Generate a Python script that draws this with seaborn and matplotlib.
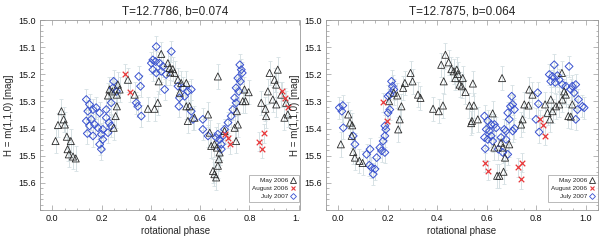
import numpy as np
import matplotlib
matplotlib.use("Agg")
import matplotlib.pyplot as plt
from matplotlib.lines import Line2D
from matplotlib.patches import Rectangle
from matplotlib.ticker import MultipleLocator
import seaborn as sns

# ---- left panel: T=12.7786, b=0.074 ----
may_l_phase = [0.037, 0.046, 0.051, 0.023, 0.059, 0.013, 0.075, 0.062, 0.067, 0.084, 0.095,
               0.266, 0.232, 0.243, 0.226, 0.273, 0.262, 0.262, 0.257, 0.249, 0.307, 0.334,
               0.388, 0.415, 0.428,
               0.442, 0.469, 0.476, 0.489, 0.479, 0.496, 0.432, 0.510, 0.523, 0.517, 0.544,
               0.557, 0.577, 0.550, 0.544,
               0.672, 0.632, 0.639, 0.645, 0.658, 0.668, 0.679, 0.676, 0.672, 0.652, 0.658,
               0.665, 0.699, 0.746, 0.740, 0.753, 0.749, 0.780, 0.797, 0.773, 0.784, 0.848,
               0.865, 0.868, 0.882, 0.915, 0.902, 0.909, 0.875, 0.895, 0.909, 0.929, 0.949,
               0.956, 0.942]
may_l_mag = [15.336, 15.366, 15.385, 15.387, 15.430, 15.446, 15.446, 15.476, 15.495, 15.503, 15.510,
             15.238, 15.256, 15.263, 15.278, 15.256, 15.275, 15.318, 15.354, 15.397, 15.220, 15.275,
             15.327, 15.327, 15.305,
             15.125, 15.159, 15.177, 15.181, 15.193, 15.195, 15.226, 15.220, 15.232, 15.268, 15.318,
             15.318, 15.360, 15.372, 15.232,
             15.208, 15.348, 15.415, 15.464, 15.458, 15.470, 15.488, 15.513, 15.537, 15.556, 15.568,
             15.580, 15.409, 15.446, 15.397, 15.385, 15.336, 15.256, 15.266, 15.299, 15.299, 15.305,
             15.327, 15.354, 15.195, 15.183, 15.220, 15.238, 15.263, 15.293, 15.311, 15.275, 15.305,
             15.348, 15.360]

aug_l_phase = [0.297, 0.314, 0.700, 0.715, 0.720, 0.933, 0.946, 0.956, 0.838, 0.861, 0.850]
aug_l_mag = [15.198, 15.266, 15.420, 15.435, 15.458, 15.263, 15.287, 15.320, 15.449, 15.418, 15.474]

jul_l_phase = [0.138, 0.151, 0.165, 0.144, 0.178, 0.192, 0.138, 0.158, 0.172, 0.151, 0.185,
               0.205, 0.199, 0.205, 0.192, 0.199, 0.142, 0.165, 0.219, 0.230, 0.239, 0.219,
               0.239, 0.226, 0.260, 0.246, 0.249,
               0.351, 0.358, 0.341, 0.347, 0.361,
               0.408, 0.422, 0.402, 0.419, 0.435, 0.449, 0.442, 0.483, 0.462, 0.422, 0.408,
               0.456, 0.510, 0.530, 0.550, 0.564, 0.537, 0.516, 0.514, 0.564, 0.571, 0.611,
               0.632,
               0.761, 0.767, 0.771, 0.753, 0.763, 0.746, 0.757, 0.740, 0.746, 0.733, 0.726,
               0.713, 0.699, 0.692, 0.679, 0.686, 0.672, 0.665, 0.611, 0.686]
jul_l_mag = [15.293, 15.311, 15.330, 15.336, 15.323, 15.342, 15.372, 15.366, 15.385, 15.390, 15.397,
             15.403, 15.421, 15.440, 15.458, 15.476, 15.418, 15.427, 15.360, 15.378, 15.390, 15.330,
             15.305, 15.415, 15.263, 15.250, 15.226,
             15.208, 15.244, 15.305, 15.318, 15.354,
             15.147, 15.098, 15.159, 15.153, 15.159, 15.171, 15.189, 15.116, 15.201, 15.195, 15.183,
             15.256, 15.244, 15.250, 15.263, 15.256, 15.281, 15.287, 15.318, 15.336, 15.366, 15.403,
             15.427,
             15.165, 15.183, 15.195, 15.214, 15.226, 15.250, 15.263, 15.287, 15.305, 15.330, 15.354,
             15.378, 15.403, 15.427, 15.440, 15.458, 15.421, 15.433, 15.366, 15.476]

# ---- right panel: T=12.7875, b=0.064 ----
may_r_phase = [0.010, 0.040, 0.047, 0.056, 0.054, 0.060, 0.067, 0.085, 0.098, 0.205, 0.224,
               0.238, 0.255, 0.248, 0.242, 0.262, 0.269, 0.292, 0.300, 0.322, 0.332,
               0.433, 0.416, 0.446, 0.457, 0.467, 0.479, 0.483, 0.473, 0.503, 0.426, 0.490,
               0.499, 0.514, 0.544, 0.383, 0.406, 0.423, 0.530, 0.548, 0.540, 0.564, 0.662,
               0.624, 0.631, 0.658, 0.665, 0.674, 0.642, 0.651, 0.668, 0.691, 0.739,
               0.904, 0.772, 0.785, 0.752, 0.769, 0.836, 0.846, 0.866, 0.880, 0.893, 0.906,
               0.920, 0.913, 0.930, 0.940, 0.855, 0.745, 0.859, 0.946, 0.537]
may_r_mag = [15.458, 15.348, 15.378, 15.388, 15.427, 15.486, 15.507, 15.519, 15.527, 15.299, 15.268,
             15.278, 15.318, 15.366, 15.403, 15.250, 15.232, 15.195, 15.226, 15.275, 15.287,
             15.128, 15.165, 15.156, 15.181, 15.189, 15.183, 15.199, 15.214, 15.214, 15.226, 15.238,
             15.244, 15.265, 15.234, 15.327, 15.336, 15.315, 15.315, 15.315, 15.372, 15.366, 15.214,
             15.344, 15.470, 15.452, 15.470, 15.507, 15.574, 15.574, 15.559, 15.458, 15.385,
             15.195, 15.256, 15.275, 15.311, 15.315, 15.311, 15.342, 15.336, 15.318, 15.311, 15.293,
             15.275, 15.263, 15.354, 15.356, 15.366, 15.366, 15.293, 15.311, 15.380]

aug_r_phase = [0.181, 0.195, 0.591, 0.604, 0.728, 0.741, 0.739, 0.815, 0.828, 0.836]
aug_r_mag = [15.303, 15.372, 15.525, 15.556, 15.543, 15.525, 15.586, 15.366, 15.385, 15.427]

jul_r_phase = [0.004, 0.018, 0.014, 0.020, 0.060, 0.067, 0.114, 0.128, 0.125, 0.134, 0.141,
               0.148, 0.155, 0.168, 0.175, 0.188, 0.181, 0.188, 0.192, 0.188, 0.201, 0.208,
               0.201, 0.215, 0.219, 0.224, 0.208,
               0.701, 0.705, 0.696, 0.712, 0.691, 0.685, 0.591, 0.604, 0.618, 0.631, 0.638,
               0.598, 0.611, 0.591, 0.604, 0.618, 0.624, 0.594, 0.671, 0.678, 0.705, 0.712,
               0.658, 0.647, 0.665, 0.685, 0.678,
               0.873, 0.933, 0.853, 0.866, 0.886, 0.893, 0.859, 0.877, 0.906, 0.920, 0.946,
               0.940, 0.960, 0.953, 0.971, 0.987, 0.994, 0.967, 0.960, 0.806, 0.799, 0.812,
               0.809]
jul_r_mag = [15.323, 15.315, 15.336, 15.397, 15.427, 15.458, 15.495, 15.476, 15.535, 15.543, 15.568,
             15.549, 15.507, 15.470, 15.482, 15.488, 15.446, 15.427, 15.403, 15.390, 15.342, 15.330,
             15.281, 15.226, 15.244, 15.256, 15.275,
             15.281, 15.311, 15.318, 15.330, 15.366, 15.342, 15.354, 15.372, 15.385, 15.385, 15.397,
             15.403, 15.409, 15.433, 15.440, 15.427, 15.446, 15.474, 15.403, 15.409, 15.409, 15.400,
             15.433, 15.476, 15.488, 15.495, 15.440,
             15.165, 15.171, 15.201, 15.208, 15.205, 15.220, 15.226, 15.230, 15.238, 15.244, 15.244,
             15.256, 15.238, 15.268, 15.293, 15.318, 15.323, 15.330, 15.366, 15.268, 15.366, 15.413,
             15.309]

# typical photometric errors per campaign
err_may = 0.045
err_aug = 0.035
err_jul = 0.040

titles = ["T=12.7786, b=0.074", "T=12.7875, b=0.064"]
series_names = ["May 2006", "August 2006", "July 2007"]

sns.set_style("ticks")
plt.rcParams['font.family'] = ['Liberation Sans', 'DejaVu Sans']

c_may = '#2a2a2a'
c_aug = '#e8383a'
c_jul = '#3a52d0'
c_err = '#d6e1e4'

fig = plt.figure(figsize=(6, 2.44), dpi=100)
ax_l = fig.add_axes([40/600, 1-210/244, 271/600, 190/244])
# right panel partially covers the left one, as in the original
fig.patches.append(Rectangle((0.5, 0), 0.5, 1, transform=fig.transFigure,
                             facecolor='white', edgecolor='none', zorder=0.5))
fig.lines.append(Line2D([0.5, 0.5], [1-210/244, 1-20/244], transform=fig.transFigure,
                        color='#9a9a9a', lw=0.6, zorder=0.6))
ax_r = fig.add_axes([326/600, 1-210/244, 272/600, 190/244])
ax_r.set_zorder(1)


def draw_panel(ax, may, aug, jul, title, leg_x):
    for (ph, mg), err in zip([may, aug, jul], [err_may, err_aug, err_jul]):
        ax.errorbar(ph, mg, yerr=err, fmt='none', ecolor=c_err, elinewidth=0.7,
                    capsize=1.2, capthick=0.6, zorder=1)
    sns.scatterplot(x=jul[0], y=jul[1], marker='D', s=16, facecolor='none',
                    edgecolor=c_jul, linewidth=0.7, ax=ax, zorder=3)
    sns.scatterplot(x=may[0], y=may[1], marker='^', s=26, facecolor='none',
                    edgecolor=c_may, linewidth=0.6, ax=ax, zorder=4)
    sns.scatterplot(x=aug[0], y=aug[1], marker='x', s=16, color=c_aug,
                    linewidth=0.9, ax=ax, zorder=5)

    ax.set_xlim(-0.05, 1.05)
    ax.set_ylim(15.7, 15.0)
    ax.xaxis.set_major_locator(MultipleLocator(0.2))
    ax.xaxis.set_minor_locator(MultipleLocator(0.05))
    ax.yaxis.set_major_locator(MultipleLocator(0.1))
    ax.yaxis.set_minor_locator(MultipleLocator(0.02))
    ax.set_yticks(np.arange(15.0, 15.61, 0.1))
    ax.set_xticklabels([f"{v:.1f}" for v in ax.get_xticks()])
    ax.set_yticklabels([f"{v:.1f}" for v in np.arange(15.0, 15.61, 0.1)])
    ax.tick_params(which='both', direction='in', top=True, right=True,
                   color='#9a9a9a', width=0.5, labelsize=6.5, pad=3, labelcolor='#111111')
    ax.tick_params(which='major', length=3.5)
    ax.tick_params(which='minor', length=1.8)
    for sp in ax.spines.values():
        sp.set_color('#9a9a9a')
        sp.set_linewidth(0.6)
    ax.set_title(title, fontsize=8.5, pad=4)
    ax.set_xlabel("rotational phase", fontsize=7, labelpad=2)
    ax.set_ylabel("H = m(1,1,0) [mag]", fontsize=7, labelpad=3)

    handles = [Line2D([], [], ls='none', marker='^', mfc='none', mec=c_may, ms=4, mew=0.6),
               Line2D([], [], ls='none', marker='x', color=c_aug, ms=3.5, mew=0.8),
               Line2D([], [], ls='none', marker='D', mfc='none', mec=c_jul, ms=3, mew=0.6)]
    leg = ax.legend(handles, series_names, loc='lower right', bbox_to_anchor=(leg_x, 0.042),
                    borderaxespad=0, markerfirst=False, fontsize=4.6, frameon=True,
                    fancybox=False, edgecolor='#9a9a9a', handlelength=0.8,
                    handletextpad=0.4, labelspacing=0.35, borderpad=0.5)
    leg.get_frame().set_linewidth(0.6)


draw_panel(ax_l, (may_l_phase, may_l_mag), (aug_l_phase, aug_l_mag),
           (jul_l_phase, jul_l_mag), titles[0], (299-40)/271)
draw_panel(ax_r, (may_r_phase, may_r_mag), (aug_r_phase, aug_r_mag),
           (jul_r_phase, jul_r_mag), titles[1], 0.999)

fig.savefig("out.png", dpi=100)
